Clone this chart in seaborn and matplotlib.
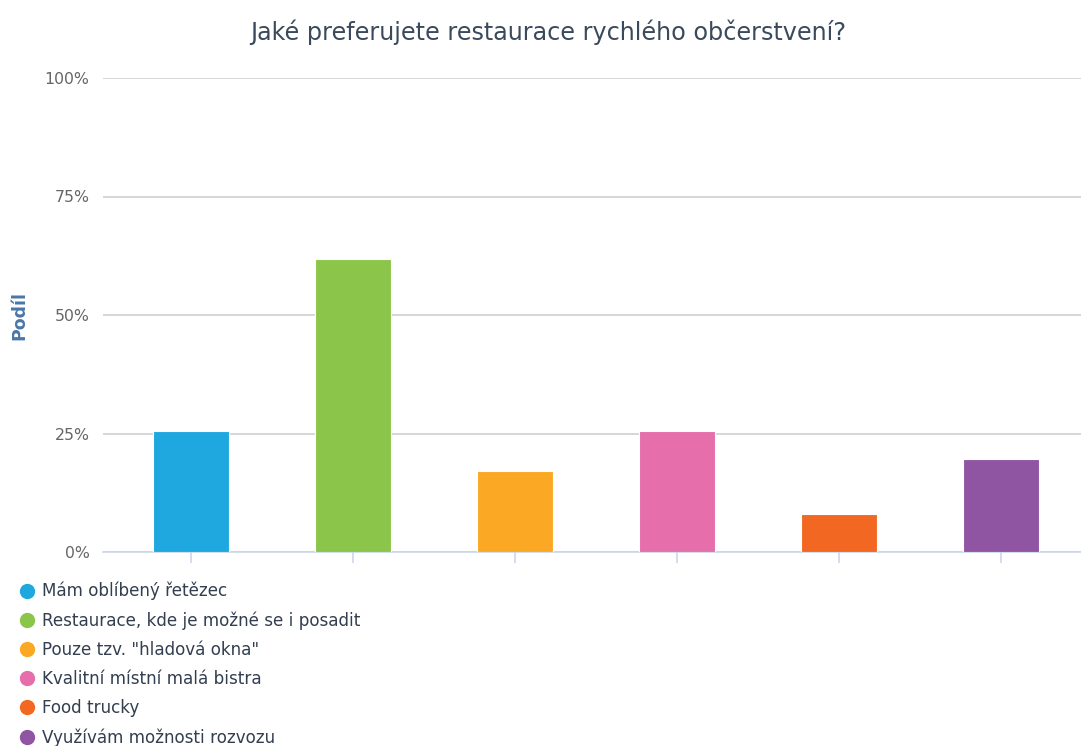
import matplotlib
matplotlib.use("Agg")
import matplotlib.pyplot as plt
import seaborn as sns
import pandas as pd
from matplotlib.lines import Line2D

categories = [
    "Mám oblíbený řetězec",
    "Restaurace, kde je možné se i posadit",
    "Pouze tzv. \"hladová okna\"",
    "Kvalitní místní malá bistra",
    "Food trucky",
    "Využívám možnosti rozvozu",
]
values = [25.5, 61.8, 17.1, 25.5, 8.0, 19.6]
colors = ["#1fa8e0", "#8bc54a", "#fba925", "#e56eab", "#f26722", "#8f55a2"]
yticks = [0, 25, 50, 75, 100]
ytick_labels = ["0%", "25%", "50%", "75%", "100%"]
title = "Jaké preferujete restaurace rychlého občerstvení?"
ylabel = "Podíl"

sns.set_theme(style="white")
plt.rcParams["font.family"] = ["DejaVu Sans"]

W, H = 1081, 746
fig = plt.figure(figsize=(W / 100, H / 100), dpi=100)
ax = fig.add_axes([103 / W, 1 - 552 / H, (1081 - 103) / W, (552 - 78) / H])

df = pd.DataFrame({"cat": categories, "val": values})
sns.barplot(data=df, x="cat", y="val", hue="cat", palette=colors, legend=False,
            saturation=1, width=0.47, edgecolor="white", linewidth=0.8, ax=ax, zorder=3)

ax.set_ylim(0, 100)
ax.set_xlim(-0.543, 5.494)
ax.set_yticks(yticks)
ax.set_yticklabels(ytick_labels)
ax.yaxis.grid(True, color="#d0d0d0", linewidth=1.2, zorder=0)
ax.set_axisbelow(True)
for s in ["top", "right", "left"]:
    ax.spines[s].set_visible(False)
ax.spines["bottom"].set_color("#ccd6eb")
ax.spines["bottom"].set_linewidth(1.2)
ax.set_xticks(range(len(categories)))
ax.set_xticklabels([""] * len(categories))
ax.tick_params(axis="x", bottom=True, length=8, width=1.2, color="#ccd6eb", direction="out")
ax.tick_params(axis="y", left=False, labelsize=11.3, labelcolor="#666666", pad=3.8)
ax.set_xlabel("")
ax.set_ylabel(ylabel, fontsize=12.5, fontweight="bold", color="#4a76a8")
ax.yaxis.set_label_coords((28 - 103) / (1081 - 103), 0.5)

fig.text(548 / W, 1 - 32 / H, title, ha="center", va="center", fontsize=17.2, color="#3a4a5c")

handles = [Line2D([0], [0], marker="o", linestyle="", markersize=10,
                  markerfacecolor=c, markeredgecolor=c) for c in colors]
fig.legend(handles, categories, loc="upper left", bbox_to_anchor=(17 / W, 1 - 582 / H),
           frameon=False, fontsize=12.1, labelcolor="#333f50", handletextpad=0.3,
           labelspacing=0.66, borderaxespad=0, handlelength=1.2, borderpad=0)

fig.savefig("out.png", dpi=100)
